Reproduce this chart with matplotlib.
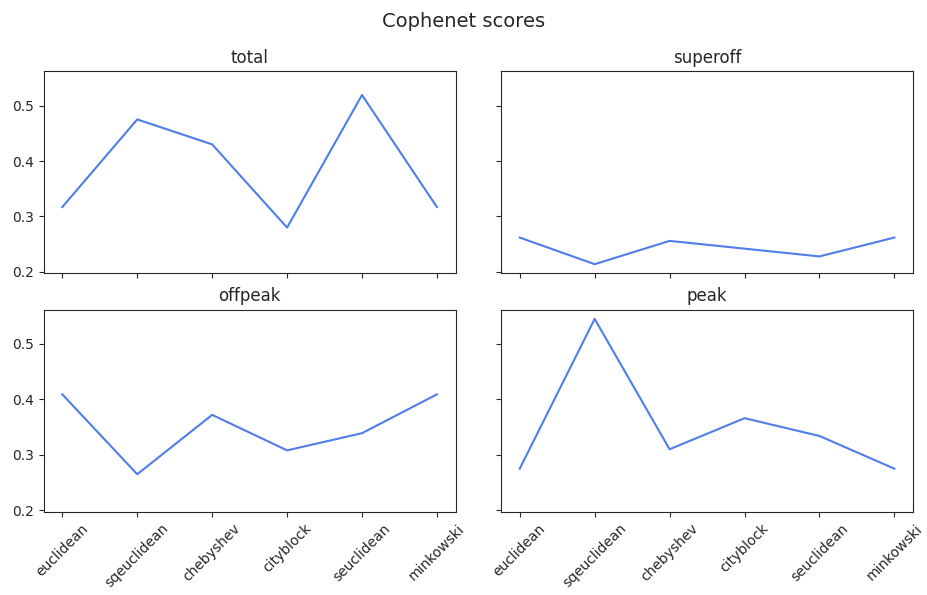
import numpy as np
import matplotlib
matplotlib.use("Agg")
import matplotlib.pyplot as plt

metrics = ["euclidean", "sqeuclidean", "chebyshev", "cityblock", "seuclidean", "minkowski"]
panels = ["total", "superoff", "offpeak", "peak"]

total = [0.317, 0.475, 0.430, 0.280, 0.519, 0.317]
superoff = [0.262, 0.214, 0.256, 0.242, 0.228, 0.262]
offpeak = [0.409, 0.265, 0.372, 0.308, 0.339, 0.409]
peak = [0.275, 0.545, 0.310, 0.366, 0.334, 0.275]

scores = {"total": total, "superoff": superoff, "offpeak": offpeak, "peak": peak}

dark = "#262626"
plt.rcParams.update({
    "text.color": dark,
    "axes.edgecolor": dark,
    "axes.labelcolor": dark,
    "xtick.color": dark,
    "ytick.color": dark,
})


def main():
    fig, axes = plt.subplots(2, 2, figsize=(9.27, 5.95), dpi=100, sharex=True, sharey=True)
    for ax, name in zip(axes.flat, panels):
        ax.plot(metrics, scores[name], color="#4f7de9", linewidth=1.5)
        ax.set_title(name)
    for ax in axes[1]:
        ax.tick_params(axis="x", labelrotation=45)
    fig.suptitle("Cophenet scores", fontsize=14)
    fig.subplots_adjust(left=0.047, right=0.985, top=0.88, bottom=0.14, wspace=0.11, hspace=0.18)
    fig.savefig("out.png", dpi=100)
    plt.close(fig)


if __name__ == "__main__":
    main()
